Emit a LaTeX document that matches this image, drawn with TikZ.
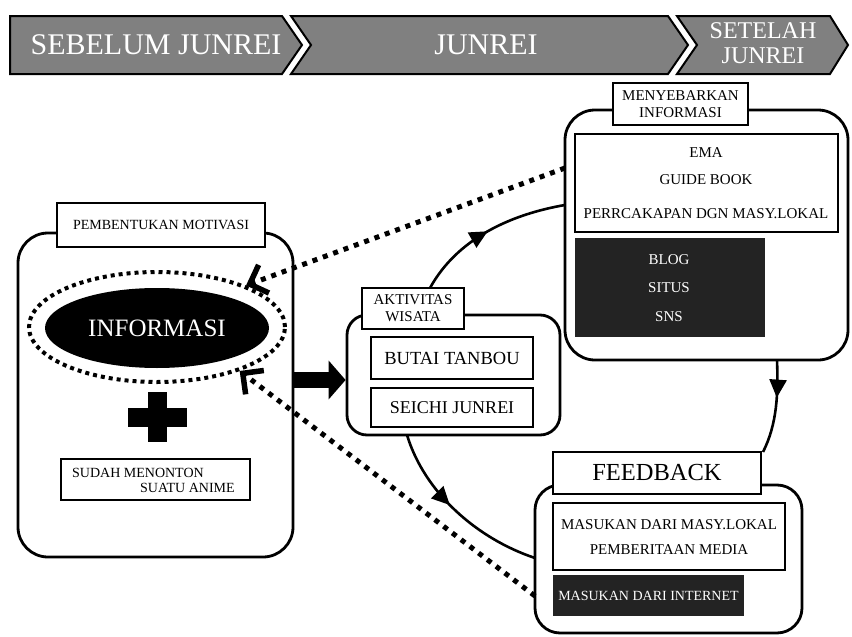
\documentclass[tikz,border=0pt]{standalone}
\usepackage{fontspec}
\setmainfont{Liberation Serif}
\usetikzlibrary{arrows.meta,decorations.markings,shapes.geometric}
\definecolor{boxblack}{HTML}{232323}
\definecolor{chev}{HTML}{808080}
\newcommand{\fsz}[2]{\fontsize{#1}{#2}\selectfont}
\tikzset{
 cont/.style={draw, line width=2.8pt, rounded corners=#1, fill=white, inner sep=0},
 lbl/.style={draw, line width=2.4pt, fill=white, inner sep=0},
 inbox/.style={draw, line width=1.3pt, fill=white, inner sep=0},
 blk/.style={fill=boxblack, inner sep=0},
 txt/.style={inner sep=0, text=black},
 wtxt/.style={inner sep=0, text=white},
 chevron/.style={fill=chev, draw=black, line width=2pt, line join=miter},
 dotarr/.style={line width=5pt, dash pattern=on 5pt off 6pt, -{Straight Barb[length=15pt,width=30pt,line width=5.5pt]}},
 cyc/.style={line width=2.6pt, postaction={decorate, decoration={markings, mark=at position #1 with {\arrow{Triangle[length=18pt,width=17pt]}}}}},
}
\begin{document}
\begin{tikzpicture}[x=1pt,y=-1pt]
\useasboundingbox (0,0) rectangle (852,637);
\fill[white] (0,0) rectangle (852,637);

% banner
\draw[chevron] (10,16) -- (282,16) -- (302,45) -- (282,74) -- (10,74) -- cycle;
\draw[chevron] (291,16) -- (668,16) -- (688,45) -- (668,74) -- (291,74) -- (311,45) -- cycle;
\draw[chevron] (677,16) -- (830,16) -- (848,45) -- (830,74) -- (677,74) -- (697,45) -- cycle;
\node[wtxt, font=\fsz{30}{30}] (t1) at (156,45) {SEBELUM JUNREI};
\node[wtxt, font=\fsz{30}{30}] (t2) at (486,45) {JUNREI};
\node[wtxt, font=\fsz{24}{25}, align=center] (t3) at (763,43) {SETELAH\\JUNREI};

% left container
\node[cont=30pt, minimum width=275pt, minimum height=324pt] (lc) at (155.5,395) {};
\node[lbl, minimum width=208pt, minimum height=44pt, font=\fsz{14}{16}] (ll) at (161,225) {PEMBENTUKAN MOTIVASI};
\node[ellipse, fill=black, minimum width=224pt, minimum height=80pt, inner sep=0, text=white, font=\fsz{25}{25}] (info) at (157,328) {INFORMASI};
\node[ellipse, draw, line width=4pt, dash pattern=on 4pt off 4pt, minimum width=256pt, minimum height=110pt, inner sep=0] (ring) at (157,327) {};
\fill (128,408) rectangle (187,427);
\fill (148,392) rectangle (167,442);
\node[inbox, minimum width=189pt, minimum height=41pt] (sud) at (155.5,479.5) {};
\node[txt, anchor=west, font=\fsz{14}{16}] (s1) at (72,473) {SUDAH MENONTON};
\node[txt, anchor=west, font=\fsz{14}{16}] (s2) at (140,488) {SUATU ANIME};

% middle container
\node[cont=20pt, minimum width=213pt, minimum height=120pt] (mc) at (453.5,375) {};
\node[lbl, minimum width=102pt, minimum height=41pt, align=center, font=\fsz{15}{17}] (ml) at (413,308.5) {AKTIVITAS\\WISATA};
\node[inbox, minimum width=162pt, minimum height=42pt, font=\fsz{18.5}{20}] (bt) at (452,358) {BUTAI TANBOU};
\node[inbox, minimum width=162pt, minimum height=39pt, font=\fsz{18}{20}] (sj) at (452,407.5) {SEICHI JUNREI};

% right top container
\node[cont=30pt, minimum width=283pt, minimum height=250pt] (rc) at (706.5,235) {};
\node[lbl, minimum width=135pt, minimum height=42pt, align=center, font=\fsz{15}{17}] (rl) at (680.5,104) {MENYEBARKAN\\INFORMASI};
\node[inbox, minimum width=263pt, minimum height=98pt] (rw) at (706.5,183) {};
\node[txt, font=\fsz{15}{17}] (r1) at (706,153) {EMA};
\node[txt, font=\fsz{15}{17}] (r2) at (706,180) {GUIDE BOOK};
\node[txt, font=\fsz{15}{17}] (r3) at (706,214) {PERRCAKAPAN DGN MASY.LOKAL};
\node[blk, minimum width=190pt, minimum height=99pt] (rb) at (670,287.5) {};
\node[wtxt, font=\fsz{15}{17}] (b1) at (669,260) {BLOG};
\node[wtxt, font=\fsz{15}{17}] (b2) at (669,288) {SITUS};
\node[wtxt, font=\fsz{15}{17}] (b3) at (669,317) {SNS};

% feedback container
\node[cont=25pt, minimum width=267pt, minimum height=148pt] (fc) at (668.5,559) {};
\node[lbl, minimum width=208pt, minimum height=42pt, font=\fsz{24.5}{26}] (fl) at (657,473) {FEEDBACK};
\node[inbox, minimum width=232pt, minimum height=67pt] (fw) at (669,536.5) {};
\node[txt, font=\fsz{15}{17}] (f1) at (669,525) {MASUKAN DARI MASY.LOKAL};
\node[txt, font=\fsz{15}{17}] (f2) at (669,550) {PEMBERITAAN MEDIA};
\node[blk, minimum width=191pt, minimum height=41pt, text=white, font=\fsz{14}{16}] (fb) at (648.5,595.5) {MASUKAN DARI INTERNET};

% connectors
\coordinate (d1) at (565,168);
\coordinate (d2) at (535,596);
\draw[dotarr] (d1) -- (ring.25);
\draw[dotarr] (d2) -- (ring.-28);
\draw[line width=16pt, -{Triangle[length=17pt,width=38pt]}] (lc.east |- 0,380) -- (mc.west |- 0,380);

\coordinate (a0) at (430,288);
\coordinate (a3) at (565,205);
\draw[cyc=0.5] (a0) .. controls (457,239) and (510,214.5) .. (a3);
\coordinate (c0) at (777,360);
\coordinate (c3) at (763,452);
\draw[cyc=0.4] (c0) .. controls (778.3,393.2) and (777.2,424) .. (c3);
\coordinate (e0) at (407,435);
\coordinate (e3) at (535,558);
\draw[cyc=0.45] (e0) .. controls (424.6,493) and (477.4,538.8) .. (e3);
\end{tikzpicture}
\end{document}
